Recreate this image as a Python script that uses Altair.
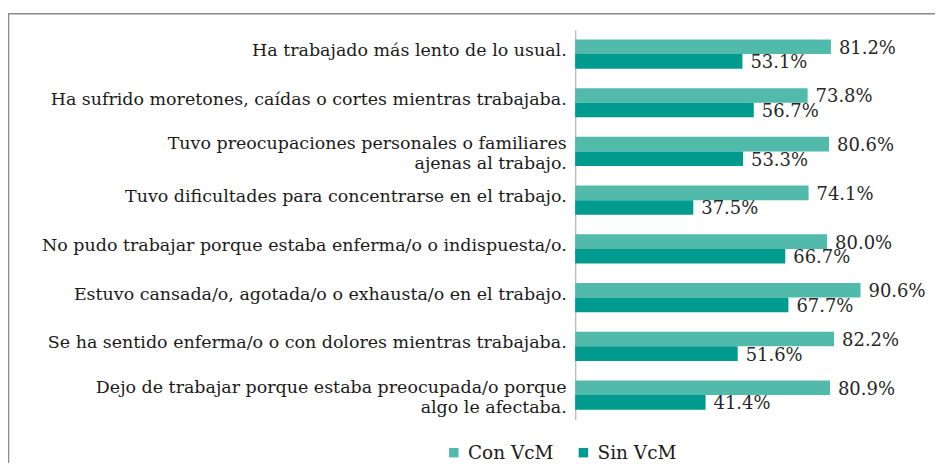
import altair as alt
import pandas as pd

categories = [
    "Ha trabajado más lento de lo usual.",
    "Ha sufrido moretones, caídas o cortes mientras trabajaba.",
    "Tuvo preocupaciones personales o familiares|ajenas al trabajo.",
    "Tuvo dificultades para concentrarse en el trabajo.",
    "No pudo trabajar porque estaba enferma/o o indispuesta/o.",
    "Estuvo cansada/o, agotada/o o exhausta/o en el trabajo.",
    "Se ha sentido enferma/o o con dolores mientras trabajaba.",
    "Dejo de trabajar porque estaba preocupada/o porque|algo le afectaba.",
]
series = ["Con VcM", "Sin VcM"]
con_vcm = [81.2, 73.8, 80.6, 74.1, 80.0, 90.6, 82.2, 80.9]
sin_vcm = [53.1, 56.7, 53.3, 37.5, 66.7, 67.7, 51.6, 41.4]
colors = ["#52BAAB", "#009B8F"]

rows = []
for c, a, b in zip(categories, con_vcm, sin_vcm):
    rows.append({"cat": c, "serie": series[0], "val": a, "lbl": f"{a:.1f}%"})
    rows.append({"cat": c, "serie": series[1], "val": b, "lbl": f"{b:.1f}%"})
df = pd.DataFrame(rows)

FONT = "DejaVu Serif"

y_enc = alt.Y("cat:N", sort=categories, title=None,
              scale=alt.Scale(paddingInner=0.4, paddingOuter=0.2),
              axis=alt.Axis(labelExpr="split(datum.label, '|')", labelFont=FONT,
                            labelFontSize=17.5, labelColor="#1a1a1a", labelPadding=9,
                            labelOffset={"condition": {"test": "indexof(datum.value, '|') >= 0",
                                                       "value": -7}, "value": -3},
                            ticks=False, domainColor="#BFBFBF", domainWidth=1.5,
                            labelLineHeight=20, labelLimit=600))
x_enc = alt.X("val:Q", scale=alt.Scale(domain=[0, 100]), axis=None)
yoff = alt.YOffset("serie:N", sort=series, scale=alt.Scale(domain=series))

bars = alt.Chart(df).mark_bar().encode(
    y=y_enc, x=x_enc, yOffset=yoff,
    color=alt.Color("serie:N", scale=alt.Scale(domain=series, range=colors),
                    legend=alt.Legend(title=None, orient="none", direction="horizontal",
                                      legendX=-131, legendY=415, symbolType="square",
                                      symbolSize=90, symbolStrokeWidth=0,
                                      labelFont=FONT, labelFontSize=18.5,
                                      labelColor="#1a1a1a", columnPadding=20,
                                      labelOffset=5)),
)

texts = alt.Chart(df).mark_text(align="left", baseline="middle", dx=8, dy=2,
                                font=FONT, fontSize=18, color="#262626").encode(
    y=alt.Y("cat:N", sort=categories), x="val:Q", yOffset=yoff, text="lbl:N")

one = pd.DataFrame({"a": [0]})
frame_left = alt.Chart(one).mark_rule(color="#8A8A8A", strokeWidth=1.5).encode(
    x=alt.value(-568.5), y=alt.value(-16), y2=alt.value(440))
frame_top = alt.Chart(one).mark_rule(color="#8A8A8A", strokeWidth=1.5).encode(
    x=alt.value(-569), x2=alt.value(400), y=alt.value(-16))

chart = alt.layer(frame_left, frame_top, bars, texts).properties(
    width=316, height=391,
    autosize=alt.AutoSizeParams(type="none"),
    padding={"left": 569, "top": 21, "right": 45, "bottom": 43},
).configure_view(stroke=None)

chart.save("out.html", embed_options={"renderer": "svg", "actions": False})
